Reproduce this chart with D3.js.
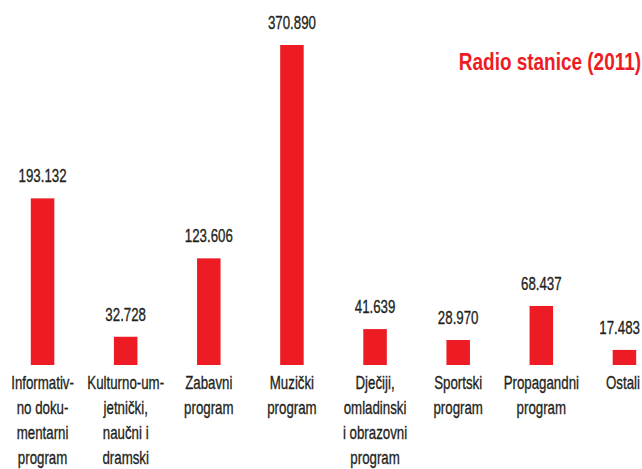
<!DOCTYPE html>
<html>
<head>
<meta charset="utf-8">
<script src="https://cdn.jsdelivr.net/npm/d3@7"></script>
<style>
  body { margin: 0; background: #fff; }
  svg { display: block; }
  .val, .cat { font-family: "Liberation Sans", Arial, sans-serif; font-size: 19px; fill: #231f20; stroke: #231f20; stroke-width: 0.35px; }
  .title { font-family: "Liberation Sans", Arial, sans-serif; font-size: 24px; font-weight: bold; fill: #ed1c24; }
</style>
</head>
<body>
<script>
var w = 642;
var h = 469;

// data
var categories = ["inf", "kul", "zab", "muz", "dje", "spo", "pro", "ost"];
var values = [193132, 32728, 123606, 370890, 41639, 28970, 68437, 17483];
var valueLabels = ["193.132", "32.728", "123.606", "370.890", "41.639", "28.970", "68.437", "17.483"];
var catLabels = [
  ["Informativ-", "no doku-", "mentarni", "program"],
  ["Kulturno-um-", "jetnički,", "naučni i", "dramski"],
  ["Zabavni", "program"],
  ["Muzički", "program"],
  ["Dječiji,", "omladinski", "i obrazovni", "program"],
  ["Sportski", "program"],
  ["Propagandni", "program"],
  ["Ostali"]
];
var title = "Radio stanice (2011)";

var data = categories.map(function(c, i) {
  return { key: c, value: values[i], label: valueLabels[i], lines: catLabels[i] };
});

var baseY = 365;
var sx = 0.7; // squeeze text horizontally, the original face is condensed
var rightEdge = 640;

var svg = d3.select("body").append("svg")
  .attr("width", w)
  .attr("height", h);

var xScale = d3.scaleBand()
  .domain(categories)
  .range([1, 666])
  .paddingInner(0.717)
  .paddingOuter(0.3585);

var yScale = d3.scaleLinear()
  .domain([0, 370890])
  .range([baseY, 45]);

function cx(d) { return xScale(d.key) + xScale.bandwidth() / 2; }

// keep a centred label inside the right edge
function fitX(x, textNode) {
  var half = textNode.getBBox().width * sx / 2;
  return Math.min(x, rightEdge - half);
}

svg.selectAll("rect.bar")
  .data(data)
  .enter().append("rect")
  .attr("class", "bar")
  .attr("x", function(d) { return xScale(d.key); })
  .attr("width", xScale.bandwidth())
  .attr("y", function(d) { return yScale(d.value); })
  .attr("height", function(d) { return baseY - yScale(d.value); })
  .style("fill", "#ed1c24");

// value labels
var vals = svg.selectAll("g.val")
  .data(data)
  .enter().append("g");

vals.append("text")
  .attr("class", "val")
  .attr("text-anchor", "middle")
  .text(function(d) { return d.label; });

vals.attr("transform", function(d) {
  var x = fitX(cx(d), this.firstChild);
  return "translate(" + x + "," + (yScale(d.value) - 16) + ") scale(" + sx + ",1)";
});

// category labels
var cats = svg.selectAll("g.cat")
  .data(data)
  .enter().append("g");

cats.append("text")
  .attr("class", "cat")
  .attr("text-anchor", "middle")
  .selectAll("tspan")
  .data(function(d) { return d.lines; })
  .enter().append("tspan")
  .attr("x", 0)
  .attr("y", function(d, i) { return i * 25; })
  .text(function(d) { return d; });

cats.attr("transform", function(d) {
  var x = fitX(cx(d), this.firstChild);
  return "translate(" + x + ",389) scale(" + sx + ",1)";
});

svg.append("g")
  .attr("transform", "translate(641,70) scale(0.79,1)")
  .append("text")
  .attr("class", "title")
  .attr("text-anchor", "end")
  .text(title);
</script>
</body>
</html>
